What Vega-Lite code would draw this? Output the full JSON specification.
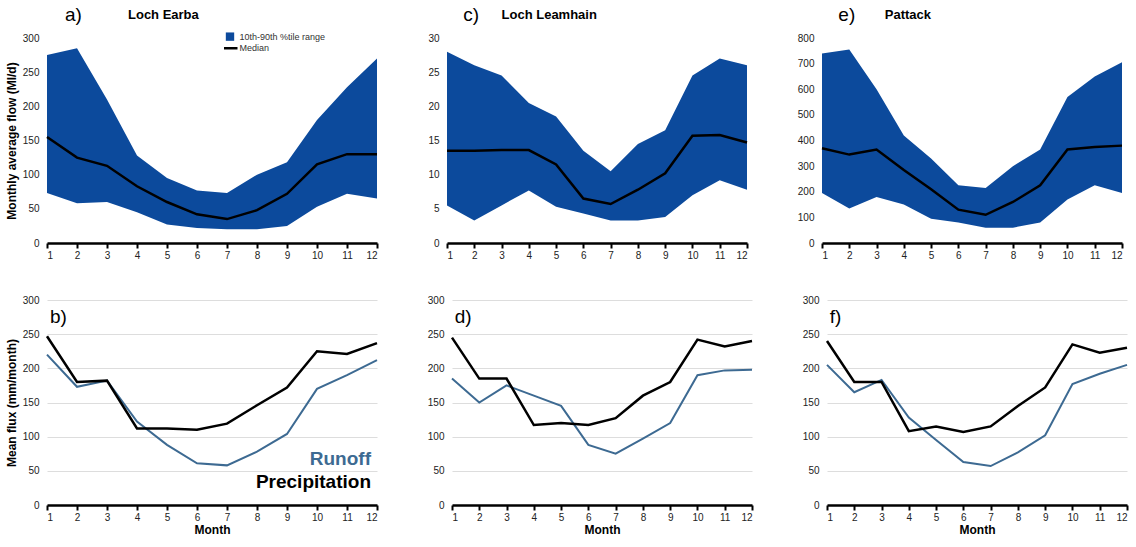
{
  "$schema": "https://vega.github.io/schema/vega-lite/v6.json",
  "background": "white",
  "padding": {"left": 5, "right": 5, "top": 5, "bottom": 2},
  "datasets": {
    "one": [{}],
    "flow": [
      {"site":"Earba","m":1,"p10":73,"p90":275,"med":155},
      {"site":"Earba","m":2,"p10":58,"p90":285,"med":125},
      {"site":"Earba","m":3,"p10":60,"p90":210,"med":113},
      {"site":"Earba","m":4,"p10":45,"p90":128,"med":83},
      {"site":"Earba","m":5,"p10":27,"p90":95,"med":60},
      {"site":"Earba","m":6,"p10":22,"p90":77,"med":42},
      {"site":"Earba","m":7,"p10":20,"p90":73,"med":35},
      {"site":"Earba","m":8,"p10":20,"p90":100,"med":48},
      {"site":"Earba","m":9,"p10":25,"p90":118,"med":72},
      {"site":"Earba","m":10,"p10":53,"p90":180,"med":115},
      {"site":"Earba","m":11,"p10":72,"p90":228,"med":130},
      {"site":"Earba","m":12,"p10":65,"p90":270,"med":130},
      {"site":"Leamhain","m":1,"p10":5.5,"p90":28,"med":13.5},
      {"site":"Leamhain","m":2,"p10":3.3,"p90":26,"med":13.5},
      {"site":"Leamhain","m":3,"p10":5.5,"p90":24.5,"med":13.6},
      {"site":"Leamhain","m":4,"p10":7.7,"p90":20.5,"med":13.6},
      {"site":"Leamhain","m":5,"p10":5.3,"p90":18.5,"med":11.5},
      {"site":"Leamhain","m":6,"p10":4.3,"p90":13.5,"med":6.5},
      {"site":"Leamhain","m":7,"p10":3.3,"p90":10.5,"med":5.7},
      {"site":"Leamhain","m":8,"p10":3.3,"p90":14.5,"med":7.8},
      {"site":"Leamhain","m":9,"p10":3.8,"p90":16.5,"med":10.2},
      {"site":"Leamhain","m":10,"p10":7,"p90":24.5,"med":15.7},
      {"site":"Leamhain","m":11,"p10":9.2,"p90":27,"med":15.8},
      {"site":"Leamhain","m":12,"p10":7.8,"p90":26,"med":14.7},
      {"site":"Pattack","m":1,"p10":195,"p90":740,"med":370},
      {"site":"Pattack","m":2,"p10":135,"p90":755,"med":345},
      {"site":"Pattack","m":3,"p10":180,"p90":600,"med":365},
      {"site":"Pattack","m":4,"p10":150,"p90":420,"med":285},
      {"site":"Pattack","m":5,"p10":95,"p90":330,"med":210},
      {"site":"Pattack","m":6,"p10":80,"p90":225,"med":130},
      {"site":"Pattack","m":7,"p10":60,"p90":215,"med":110},
      {"site":"Pattack","m":8,"p10":60,"p90":300,"med":160},
      {"site":"Pattack","m":9,"p10":80,"p90":365,"med":225},
      {"site":"Pattack","m":10,"p10":170,"p90":570,"med":365},
      {"site":"Pattack","m":11,"p10":225,"p90":650,"med":375},
      {"site":"Pattack","m":12,"p10":195,"p90":705,"med":380}
    ],
    "flux": [
      {"site":"Earba","m":1,"precip":247,"runoff":220},
      {"site":"Earba","m":2,"precip":180,"runoff":173},
      {"site":"Earba","m":3,"precip":182,"runoff":182},
      {"site":"Earba","m":4,"precip":112,"runoff":122},
      {"site":"Earba","m":5,"precip":112,"runoff":88},
      {"site":"Earba","m":6,"precip":110,"runoff":61},
      {"site":"Earba","m":7,"precip":119,"runoff":58},
      {"site":"Earba","m":8,"precip":146,"runoff":78},
      {"site":"Earba","m":9,"precip":172,"runoff":104},
      {"site":"Earba","m":10,"precip":225,"runoff":170},
      {"site":"Earba","m":11,"precip":221,"runoff":190},
      {"site":"Earba","m":12,"precip":237,"runoff":212},
      {"site":"Leamhain","m":1,"precip":245,"runoff":185},
      {"site":"Leamhain","m":2,"precip":185,"runoff":150},
      {"site":"Leamhain","m":3,"precip":185,"runoff":175},
      {"site":"Leamhain","m":4,"precip":117,"runoff":160},
      {"site":"Leamhain","m":5,"precip":120,"runoff":145},
      {"site":"Leamhain","m":6,"precip":117,"runoff":88},
      {"site":"Leamhain","m":7,"precip":127,"runoff":75},
      {"site":"Leamhain","m":8,"precip":160,"runoff":97},
      {"site":"Leamhain","m":9,"precip":180,"runoff":120},
      {"site":"Leamhain","m":10,"precip":242,"runoff":190},
      {"site":"Leamhain","m":11,"precip":232,"runoff":197},
      {"site":"Leamhain","m":12,"precip":240,"runoff":198},
      {"site":"Pattack","m":1,"precip":240,"runoff":205},
      {"site":"Pattack","m":2,"precip":180,"runoff":165},
      {"site":"Pattack","m":3,"precip":180,"runoff":183},
      {"site":"Pattack","m":4,"precip":108,"runoff":128},
      {"site":"Pattack","m":5,"precip":115,"runoff":95},
      {"site":"Pattack","m":6,"precip":107,"runoff":63},
      {"site":"Pattack","m":7,"precip":115,"runoff":57},
      {"site":"Pattack","m":8,"precip":145,"runoff":77},
      {"site":"Pattack","m":9,"precip":172,"runoff":102},
      {"site":"Pattack","m":10,"precip":235,"runoff":177},
      {"site":"Pattack","m":11,"precip":223,"runoff":192},
      {"site":"Pattack","m":12,"precip":230,"runoff":205}
    ]
  },
  "vconcat": [
    {
      "hconcat": [
        {
          "width": 330, "height": 205,
          "layer": [
            {"data": {"name": "flow"}, "transform": [{"filter": "datum.site == 'Earba'"}], "mark": {"type": "area", "color": "#0c4a9c"}, "encoding": {
              "x": {"field": "m", "type": "quantitative", "title": null, "scale": {"domain": [1, 12]}},
              "y": {"field": "p90", "type": "quantitative", "title": "Monthly average flow (Ml/d)", "scale": {"domain": [0, 300]}},
              "y2": {"field": "p10"}}},
            {"data": {"name": "flow"}, "transform": [{"filter": "datum.site == 'Earba'"}], "mark": {"type": "line", "strokeWidth": 2.5, "color": "black"}, "encoding": {
              "x": {"field": "m", "type": "quantitative"},
              "y": {"field": "med", "type": "quantitative"}}},
            {"data": {"name": "one"}, "mark": {"type": "point", "shape": "square", "filled": true, "size": 70, "color": "#0c4a9c", "opacity": 1}, "encoding": {"x": {"datum": 7.1}, "y": {"datum": 302}}},
            {"data": {"name": "one"}, "mark": {"type": "rule", "strokeWidth": 2.5, "color": "black"}, "encoding": {"x": {"datum": 6.9}, "x2": {"datum": 7.35}, "y": {"datum": 285}}},
            {"data": {"name": "one"}, "mark": {"type": "text", "fontSize": 9, "align": "left", "dx": 2, "color": "#333"}, "encoding": {"x": {"datum": 7.35}, "y": {"datum": 302}, "text": {"value": "10th-90th %tile range"}}},
            {"data": {"name": "one"}, "mark": {"type": "text", "fontSize": 9, "align": "left", "dx": 2, "color": "#333"}, "encoding": {"x": {"datum": 7.35}, "y": {"datum": 285}, "text": {"value": "Median"}}},
            {"data": {"name": "one"}, "mark": {"type": "text", "fontSize": 13, "fontWeight": "bold", "align": "left"}, "encoding": {"x": {"datum": 3.7}, "y": {"datum": 334}, "text": {"value": "Loch Earba"}}},
            {"data": {"name": "one"}, "mark": {"type": "text", "fontSize": 19, "align": "left"}, "encoding": {"x": {"datum": 1.6}, "y": {"datum": 334}, "text": {"value": "a)"}}}
          ]
        },
        {
          "width": 300, "height": 205,
          "layer": [
            {"data": {"name": "flow"}, "transform": [{"filter": "datum.site == 'Leamhain'"}], "mark": {"type": "area", "color": "#0c4a9c"}, "encoding": {
              "x": {"field": "m", "type": "quantitative", "title": null, "scale": {"domain": [1, 12]}},
              "y": {"field": "p90", "type": "quantitative", "title": null, "scale": {"domain": [0, 30]}},
              "y2": {"field": "p10"}}},
            {"data": {"name": "flow"}, "transform": [{"filter": "datum.site == 'Leamhain'"}], "mark": {"type": "line", "strokeWidth": 2.5, "color": "black"}, "encoding": {
              "x": {"field": "m", "type": "quantitative"},
              "y": {"field": "med", "type": "quantitative"}}},
            {"data": {"name": "one"}, "mark": {"type": "text", "fontSize": 13, "fontWeight": "bold", "align": "left"}, "encoding": {"x": {"datum": 3.0}, "y": {"datum": 33.4}, "text": {"value": "Loch Leamhain"}}},
            {"data": {"name": "one"}, "mark": {"type": "text", "fontSize": 19, "align": "left"}, "encoding": {"x": {"datum": 1.6}, "y": {"datum": 33.4}, "text": {"value": "c)"}}}
          ]
        },
        {
          "width": 300, "height": 205,
          "layer": [
            {"data": {"name": "flow"}, "transform": [{"filter": "datum.site == 'Pattack'"}], "mark": {"type": "area", "color": "#0c4a9c"}, "encoding": {
              "x": {"field": "m", "type": "quantitative", "title": null, "scale": {"domain": [1, 12]}},
              "y": {"field": "p90", "type": "quantitative", "title": null, "scale": {"domain": [0, 800]}},
              "y2": {"field": "p10"}}},
            {"data": {"name": "flow"}, "transform": [{"filter": "datum.site == 'Pattack'"}], "mark": {"type": "line", "strokeWidth": 2.5, "color": "black"}, "encoding": {
              "x": {"field": "m", "type": "quantitative"},
              "y": {"field": "med", "type": "quantitative"}}},
            {"data": {"name": "one"}, "mark": {"type": "text", "fontSize": 13, "fontWeight": "bold", "align": "left"}, "encoding": {"x": {"datum": 3.3}, "y": {"datum": 891}, "text": {"value": "Pattack"}}},
            {"data": {"name": "one"}, "mark": {"type": "text", "fontSize": 19, "align": "left"}, "encoding": {"x": {"datum": 1.6}, "y": {"datum": 891}, "text": {"value": "e)"}}}
          ]
        }
      ]
    },
    {
      "hconcat": [
        {
          "width": 330, "height": 205,
          "layer": [
            {"data": {"name": "flux"}, "transform": [{"filter": "datum.site == 'Earba'"}], "mark": {"type": "line", "strokeWidth": 2, "color": "#3d6a92"}, "encoding": {
              "x": {"field": "m", "type": "quantitative", "title": "Month", "scale": {"domain": [1, 12]}},
              "y": {"field": "runoff", "type": "quantitative", "title": "Mean flux (mm/month)", "scale": {"domain": [0, 300]}, "axis": {"grid": true}}}},
            {"data": {"name": "flux"}, "transform": [{"filter": "datum.site == 'Earba'"}], "mark": {"type": "line", "strokeWidth": 2.5, "color": "black"}, "encoding": {
              "x": {"field": "m", "type": "quantitative"},
              "y": {"field": "precip", "type": "quantitative"}}},
            {"data": {"name": "one"}, "mark": {"type": "text", "fontSize": 19, "align": "left"}, "encoding": {"x": {"datum": 1.1}, "y": {"datum": 275}, "text": {"value": "b)"}}},
            {"data": {"name": "one"}, "mark": {"type": "text", "fontSize": 19, "fontWeight": "bold", "align": "right", "color": "#3d6a92"}, "encoding": {"x": {"datum": 11.8}, "y": {"datum": 68}, "text": {"value": "Runoff"}}},
            {"data": {"name": "one"}, "mark": {"type": "text", "fontSize": 19, "fontWeight": "bold", "align": "right", "color": "black"}, "encoding": {"x": {"datum": 11.8}, "y": {"datum": 33}, "text": {"value": "Precipitation"}}}
          ]
        },
        {
          "width": 300, "height": 205,
          "layer": [
            {"data": {"name": "flux"}, "transform": [{"filter": "datum.site == 'Leamhain'"}], "mark": {"type": "line", "strokeWidth": 2, "color": "#3d6a92"}, "encoding": {
              "x": {"field": "m", "type": "quantitative", "title": "Month", "scale": {"domain": [1, 12]}},
              "y": {"field": "runoff", "type": "quantitative", "title": null, "scale": {"domain": [0, 300]}, "axis": {"grid": true}}}},
            {"data": {"name": "flux"}, "transform": [{"filter": "datum.site == 'Leamhain'"}], "mark": {"type": "line", "strokeWidth": 2.5, "color": "black"}, "encoding": {
              "x": {"field": "m", "type": "quantitative"},
              "y": {"field": "precip", "type": "quantitative"}}},
            {"data": {"name": "one"}, "mark": {"type": "text", "fontSize": 19, "align": "left"}, "encoding": {"x": {"datum": 1.1}, "y": {"datum": 275}, "text": {"value": "d)"}}}
          ]
        },
        {
          "width": 300, "height": 205,
          "layer": [
            {"data": {"name": "flux"}, "transform": [{"filter": "datum.site == 'Pattack'"}], "mark": {"type": "line", "strokeWidth": 2, "color": "#3d6a92"}, "encoding": {
              "x": {"field": "m", "type": "quantitative", "title": "Month", "scale": {"domain": [1, 12]}},
              "y": {"field": "runoff", "type": "quantitative", "title": null, "scale": {"domain": [0, 300]}, "axis": {"grid": true}}}},
            {"data": {"name": "flux"}, "transform": [{"filter": "datum.site == 'Pattack'"}], "mark": {"type": "line", "strokeWidth": 2.5, "color": "black"}, "encoding": {
              "x": {"field": "m", "type": "quantitative"},
              "y": {"field": "precip", "type": "quantitative"}}},
            {"data": {"name": "one"}, "mark": {"type": "text", "fontSize": 19, "align": "left"}, "encoding": {"x": {"datum": 1.1}, "y": {"datum": 275}, "text": {"value": "f)"}}}
          ]
        }
      ]
    }
  ],
  "spacing": 35,
  "config": {
    "font": "Liberation Sans",
    "view": {"stroke": null},
    "concat": {"spacing": 45},
    "text": {"font": "Liberation Sans"},
    "axisX": {"values": [1,2,3,4,5,6,7,8,9,10,11,12], "domainColor": "black", "domainWidth": 2.5, "tickColor": "black", "tickWidth": 2, "tickSize": 5, "grid": false, "labelFontSize": 10, "labelColor": "#222", "labelOverlap": false, "titleFontSize": 12, "titlePadding": 2, "labelPadding": 2},
    "axisY": {"tickCount": 8, "domain": false, "ticks": false, "grid": false, "gridColor": "#dddddd", "labelFontSize": 10, "labelColor": "#222", "labelOverlap": false, "titleFontSize": 12, "titleColor": "black", "labelPadding": 8}
  }
}
